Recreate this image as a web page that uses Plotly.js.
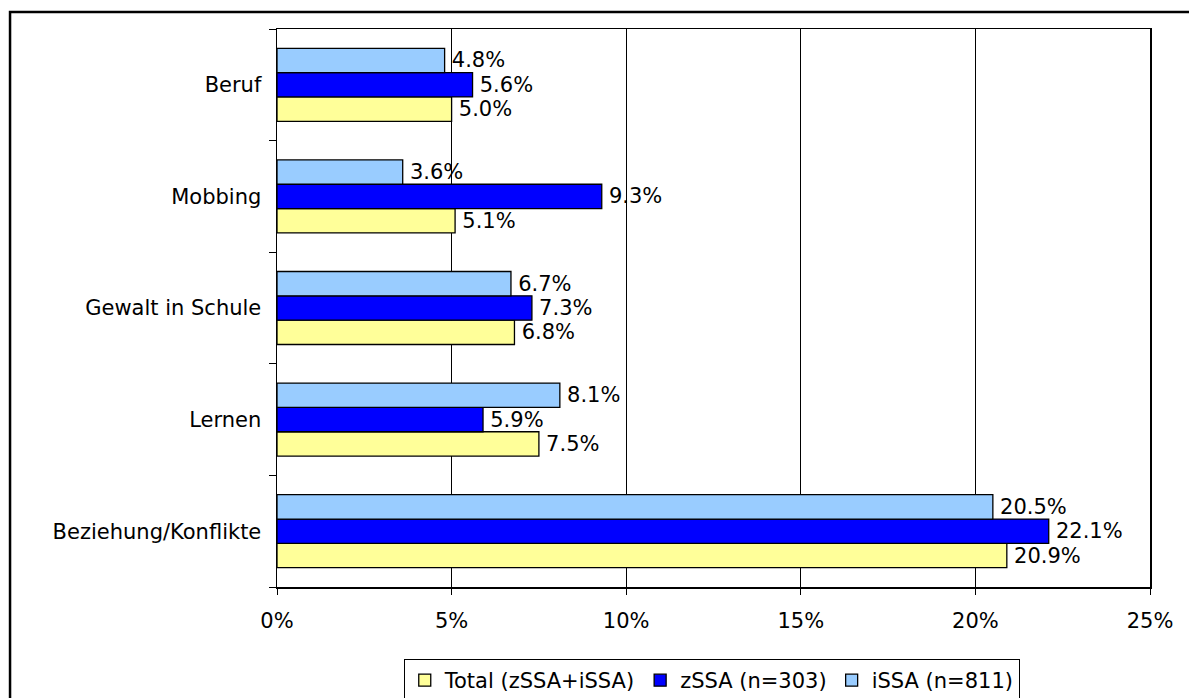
<!DOCTYPE html>
<html>
<head>
<meta charset="utf-8">
<script src="https://cdn.plot.ly/plotly-3.0.1.min.js"></script>
<style>html,body{margin:0;padding:0;background:#fff;}</style>
</head>
<body>
<div id="chart" style="width:1189px;height:698px;"></div>
<script>
// Categories listed bottom to top
const categories = ["Beziehung/Konflikte", "Lernen", "Gewalt in Schule", "Mobbing", "Beruf"];
const totalValues = [0.209, 0.075, 0.068, 0.051, 0.050];
const zssaValues  = [0.221, 0.059, 0.073, 0.093, 0.056];
const issaValues  = [0.205, 0.081, 0.067, 0.036, 0.048];
const seriesNames = ["Total (zSSA+iSSA)", "zSSA (n=303)", "iSSA (n=811)"];
const xTickVals = [0, 0.05, 0.10, 0.15, 0.20, 0.25];

const FONT = "DejaVu Sans, Liberation Sans, Arial, sans-serif";
const FS = 21;

function barTrace(name, vals, color) {
  return {
    type: "bar",
    orientation: "h",
    name: name,
    y: categories,
    x: vals,
    marker: {color: color, line: {color: "#000", width: 1.3}},
    text: vals.map(v => "\u2009" + (v * 100).toFixed(1) + "%"),
    textposition: "outside",
    constraintext: "none",
    cliponaxis: false,
    textfont: {family: FONT, size: FS, color: "#000"},
    hoverinfo: "skip"
  };
}

const data = [
  barTrace(seriesNames[0], totalValues, "#FFFF99"),
  barTrace(seriesNames[1], zssaValues, "#0000FF"),
  barTrace(seriesNames[2], issaValues, "#99CCFF")
];

const layout = {
  width: 1189,
  height: 698,
  margin: {l: 277, r: 39, t: 29, b: 111, pad: 0, autoexpand: false},
  paper_bgcolor: "#fff",
  plot_bgcolor: "#fff",
  font: {family: FONT, size: FS, color: "#000"},
  barmode: "group",
  bargap: 0.346,
  bargroupgap: 0,
  showlegend: true,
  legend: {
    orientation: "h",
    x: 0.498, xanchor: "center",
    y: -0.129, yanchor: "top",
    bordercolor: "#000", borderwidth: 1,
    font: {family: FONT, size: FS, color: "#000"},
    traceorder: "normal",
    itemclick: false
  },
  xaxis: {
    range: [0, 0.25],
    tickvals: xTickVals,
    tickformat: ".0%",
    showgrid: true, gridcolor: "#000", gridwidth: 1,
    zeroline: false,
    showline: true, linecolor: "#000", linewidth: 1.5, mirror: true,
    ticks: "outside", ticklen: 6, tickcolor: "#000", tickwidth: 1,
    ticklabelstandoff: 8,
    tickfont: {family: FONT, size: FS, color: "#000"},
    fixedrange: true
  },
  yaxis: {
    type: "category",
    categoryorder: "array",
    categoryarray: categories,
    tickson: "boundaries",
    showgrid: false,
    zeroline: false,
    showline: true, linecolor: "#000", linewidth: 1.5, mirror: true,
    ticks: "outside", ticklen: 7, tickcolor: "#000", tickwidth: 1,
    ticklabelstandoff: 10,
    tickfont: {family: FONT, size: FS, color: "#000"},
    fixedrange: true
  },
  shapes: [{
    type: "rect", xref: "paper", yref: "paper",
    x0: -0.3058, x1: 1.06, y0: -0.25, y1: 1.0305,
    line: {color: "#000", width: 2.5},
    fillcolor: "rgba(0,0,0,0)",
    layer: "above"
  }]
};

Plotly.newPlot("chart", data, layout, {displayModeBar: false, staticPlot: true});
</script>
</body>
</html>
